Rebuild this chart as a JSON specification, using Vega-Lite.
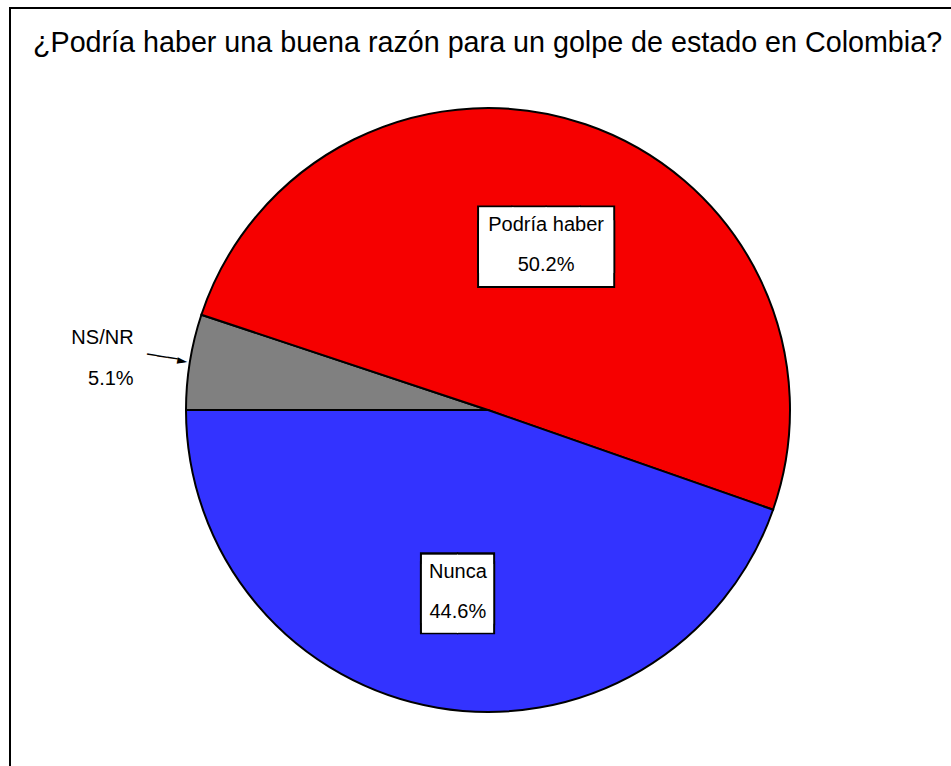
{
  "$schema": "https://vega.github.io/schema/vega-lite/v6.json",
  "width": 941,
  "height": 758,
  "autosize": {"type": "none"},
  "padding": {"left": 10, "top": 8, "right": 0, "bottom": 0},
  "background": "white",
  "config": {
    "view": {"stroke": "black", "strokeWidth": 2, "strokeDash": [941, 1699, 758]},
    "font": "Liberation Sans"
  },
  "title": {
    "text": "¿Podría haber una buena razón para un golpe de estado en Colombia?",
    "anchor": "start",
    "frame": "group",
    "offset": -45,
    "dy": 28,
    "baseline": "alphabetic",
    "dx": 23,
    "fontSize": 28.7,
    "font": "Liberation Sans",
    "fontWeight": "normal",
    "color": "black"
  },
  "data": {
    "values": [
      {"categoria": "NS/NR", "pct": 0.051, "orden": 1},
      {"categoria": "Podría haber", "pct": 0.502, "orden": 2},
      {"categoria": "Nunca", "pct": 0.446, "orden": 3}
    ]
  },
  "encoding": {
    "theta": {"field": "pct", "type": "quantitative", "stack": true, "scale": {"range": [4.71238898, 10.99557429]}},
    "order": {"field": "orden", "type": "quantitative", "sort": "ascending"}
  },
  "layer": [
    {
      "mark": {"type": "point", "opacity": 0},
      "encoding": {
        "x": {"field": "pct", "type": "quantitative", "axis": null},
        "y": {"field": "pct", "type": "quantitative", "axis": null}
      }
    },
    {
      "mark": {"type": "arc", "radius": 302, "stroke": "black", "strokeWidth": 2, "xOffset": 7.5, "yOffset": 23},
      "encoding": {
        "color": {"field": "categoria", "type": "nominal", "scale": {"domain": ["Podría haber", "Nunca", "NS/NR"], "range": ["#F60000", "#3333FF", "#808080"]}, "legend": null}
      }
    },
    {
      "mark": {"type": "text", "radius": 180, "xOffset": 7.5, "yOffset": 23, "dy": 2, "font": "DejaVu Sans Mono", "fontSize": 56.89, "lineHeight": 15.78, "fill": "black", "align": "center", "baseline": "middle"},
      "encoding": {
        "detail": {"field": "categoria"},
        "text": {"condition": {"test": "datum.categoria === 'Podría haber'", "value": ["████", "████"]}, "value": ""}
      }
    },
    {
      "mark": {"type": "text", "radius": 180, "xOffset": 7.5, "yOffset": 23, "dy": 2, "font": "DejaVu Sans Mono", "fontSize": 55.23, "lineHeight": 13.71, "fill": "white", "align": "center", "baseline": "middle"},
      "encoding": {
        "detail": {"field": "categoria"},
        "text": {"condition": {"test": "datum.categoria === 'Podría haber'", "value": ["████", "████"]}, "value": ""}
      }
    },
    {
      "mark": {"type": "text", "radius": 180, "xOffset": 7.5, "yOffset": 23, "dy": 5, "font": "DejaVu Sans Mono", "fontSize": 61.46, "lineHeight": 8.46, "fill": "black", "align": "center", "baseline": "middle"},
      "encoding": {
        "detail": {"field": "categoria"},
        "text": {"condition": {"test": "datum.categoria === 'Nunca'", "value": ["██", "██"]}, "value": ""}
      }
    },
    {
      "mark": {"type": "text", "radius": 180, "xOffset": 7.5, "yOffset": 23, "dy": 5, "font": "DejaVu Sans Mono", "fontSize": 58.14, "lineHeight": 8.33, "fill": "white", "align": "center", "baseline": "middle"},
      "encoding": {
        "detail": {"field": "categoria"},
        "text": {"condition": {"test": "datum.categoria === 'Nunca'", "value": ["██", "██"]}, "value": ""}
      }
    },
    {
      "mark": {"type": "text", "radius": 180, "xOffset": 7.5, "yOffset": 23, "dy": -15, "font": "Liberation Sans", "fontSize": 20, "fill": "black", "align": "center", "baseline": "middle"},
      "encoding": {
        "detail": {"field": "categoria"},
        "text": {"field": "categoria", "type": "nominal", "condition": {"test": "datum.categoria === 'NS/NR'", "value": ""}}
      }
    },
    {
      "mark": {"type": "text", "radius": 180, "xOffset": 7.5, "yOffset": 23, "dy": 25, "font": "Liberation Sans", "fontSize": 20, "fill": "black", "align": "center", "baseline": "middle"},
      "encoding": {
        "detail": {"field": "categoria"},
        "text": {"field": "pct", "type": "quantitative", "format": ".1%", "condition": {"test": "datum.categoria === 'NS/NR'", "value": ""}}
      }
    },
    {
      "mark": {"type": "text", "radius": 359, "xOffset": 7.5, "yOffset": 23, "dy": -15, "font": "Liberation Sans", "fontSize": 20, "fill": "black", "align": "right", "baseline": "middle"},
      "encoding": {
        "detail": {"field": "categoria"},
        "text": {"field": "categoria", "type": "nominal", "condition": {"test": "datum.categoria !== 'NS/NR'", "value": ""}}
      }
    },
    {
      "mark": {"type": "text", "radius": 359, "xOffset": 7.5, "yOffset": 23, "dy": 26, "font": "Liberation Sans", "fontSize": 20, "fill": "black", "align": "right", "baseline": "middle"},
      "encoding": {
        "detail": {"field": "categoria"},
        "text": {"field": "pct", "type": "quantitative", "format": ".1%", "condition": {"test": "datum.categoria !== 'NS/NR'", "value": ""}}
      }
    },
    {
      "mark": {"type": "text", "radius": 325, "xOffset": 7.5, "yOffset": 23, "angle": 9, "font": "DejaVu Sans Mono", "fontSize": 17, "fill": "black", "align": "center", "baseline": "middle"},
      "encoding": {
        "detail": {"field": "categoria"},
        "text": {"condition": {"test": "datum.categoria === 'NS/NR'", "value": "───►"}, "value": ""}
      }
    }
  ]
}
